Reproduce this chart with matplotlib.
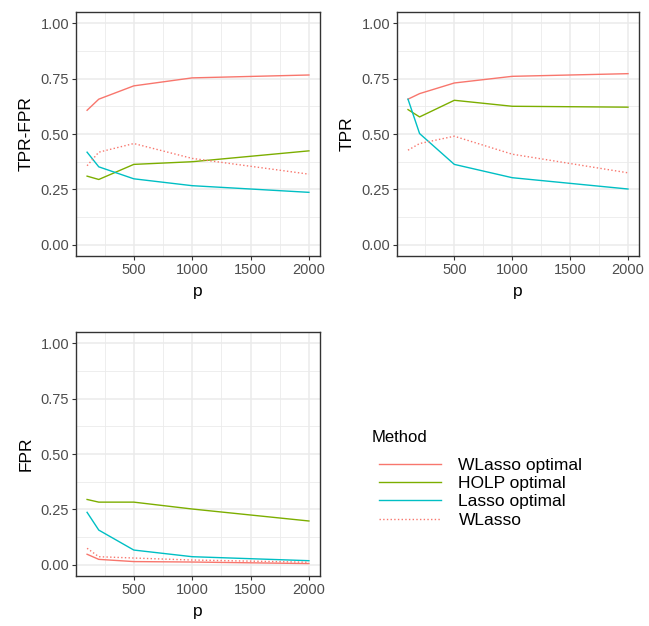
import matplotlib
matplotlib.use("Agg")
import matplotlib.pyplot as plt
from matplotlib.lines import Line2D

plt.rcParams["font.family"] = ["Liberation Sans", "DejaVu Sans"]

p = [100, 200, 500, 1000, 2000]
methods = ["WLasso optimal", "HOLP optimal", "Lasso optimal", "WLasso"]
colors = ["#F8766D", "#7CAE00", "#00BFC4", "#F8766D"]
styles = ["-", "-", "-", ":"]

tpr = {
    "WLasso optimal": [0.657, 0.682, 0.730, 0.760, 0.772],
    "HOLP optimal": [0.610, 0.577, 0.652, 0.625, 0.621],
    "Lasso optimal": [0.657, 0.502, 0.363, 0.303, 0.252],
    "WLasso": [0.427, 0.457, 0.490, 0.409, 0.325],
}
fpr = {
    "WLasso optimal": [0.048, 0.025, 0.015, 0.013, 0.006],
    "HOLP optimal": [0.295, 0.283, 0.283, 0.252, 0.198],
    "Lasso optimal": [0.237, 0.157, 0.067, 0.037, 0.019],
    "WLasso": [0.075, 0.037, 0.031, 0.022, 0.012],
}
diff = {
    "WLasso optimal": [0.607, 0.657, 0.717, 0.753, 0.766],
    "HOLP optimal": [0.310, 0.295, 0.363, 0.375, 0.424],
    "Lasso optimal": [0.418, 0.352, 0.298, 0.267, 0.237],
    "WLasso": [0.357, 0.418, 0.457, 0.390, 0.319],
}

W, H = 649, 626
fig = plt.figure(figsize=(W / 100, H / 100), dpi=100)


def make_ax(x0, y0, x1, y1):
    return fig.add_axes([x0 / W, 1 - y1 / H, (x1 - x0) / W, (y1 - y0) / H])


def style_ax(ax, ylabel):
    ax.set_xlim(5, 2095)
    ax.set_ylim(-0.05, 1.05)
    ax.set_xticks([500, 1000, 1500, 2000])
    ax.set_xticks([250, 750, 1250, 1750], minor=True)
    ax.set_yticks([0, 0.25, 0.5, 0.75, 1.0])
    ax.set_yticks([0.125, 0.375, 0.625, 0.875], minor=True)
    ax.set_yticklabels(["0.00", "0.25", "0.50", "0.75", "1.00"])
    ax.grid(which="major", color="#EBEBEB", lw=1.1)
    ax.grid(which="minor", color="#EBEBEB", lw=0.6)
    ax.set_axisbelow(True)
    ax.tick_params(which="major", length=3, width=0.8, color="#333333",
                   labelsize=10.5, labelcolor="#4D4D4D", pad=2)
    ax.tick_params(which="minor", length=0)
    for s in ax.spines.values():
        s.set_color("#333333")
        s.set_linewidth(1.0)
    ax.set_xlabel("p", fontsize=12.5, labelpad=5)
    ax.set_ylabel(ylabel, fontsize=12.5, labelpad=5)


panels = [
    ((76, 12, 320, 256), diff, "TPR-FPR"),
    ((397, 12, 639, 256), tpr, "TPR"),
    ((76, 332, 320, 576), fpr, "FPR"),
]
for box, data, lab in panels:
    ax = make_ax(*box)
    for m, c, ls in zip(methods, colors, styles):
        ax.plot(p, data[m], color=c, ls=ls, lw=1.0)
    style_ax(ax, lab)

# legend: title drawn separately so the gap below it can be set
fig.text(372 / W, 1 - 437 / H, "Method", fontsize=12, va="center", ha="left")
handles = [Line2D([], [], color=c, ls=ls, lw=1.0) for c, ls in zip(colors, styles)]
fig.legend(handles, methods, loc="upper left",
           bbox_to_anchor=(363 / W, 1 - 442 / H), frameon=False,
           fontsize=12.5, handlelength=3.6,
           labelspacing=0.18, handletextpad=1.0)

fig.savefig("out.png", dpi=100)
